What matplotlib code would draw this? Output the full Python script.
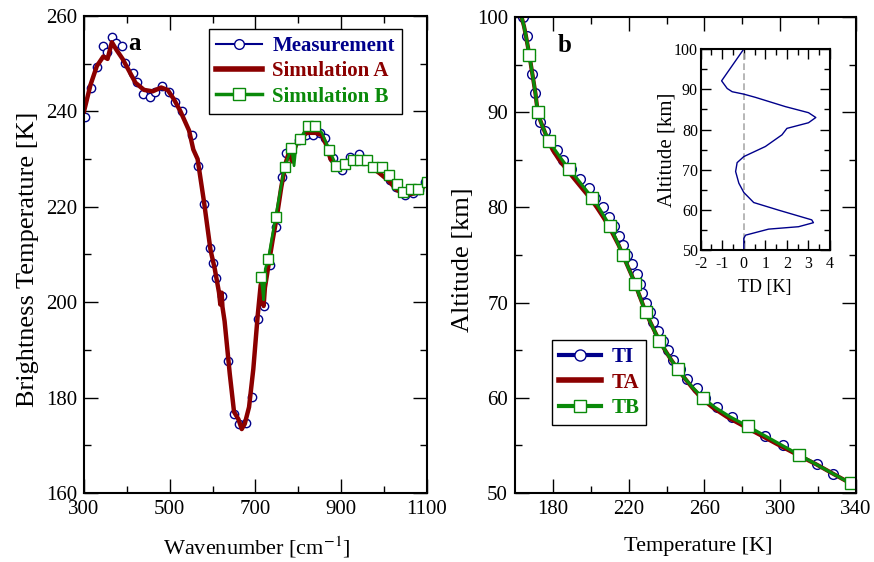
import numpy as np
import matplotlib
matplotlib.use("Agg")
import matplotlib.pyplot as plt
from matplotlib.lines import Line2D
from matplotlib.ticker import MultipleLocator, FixedLocator

plt.rcParams['font.family'] = ['Liberation Serif', 'DejaVu Serif']
plt.rcParams['mathtext.fontset'] = 'stix'
plt.rcParams['axes.unicode_minus'] = False

NAVY = '#00008b'
DRED = '#8b0000'
GREEN = '#0a8a0a'

# ---- panel a : brightness temperature spectrum ----
meas_wn = [302, 316, 330, 344, 353, 365, 375, 388, 396, 414, 423, 438, 454, 466, 481,
           499, 512, 528, 553, 565, 580, 594, 602, 608, 623, 637, 650, 662, 677, 692,
           707, 719, 735, 748, 761, 771, 784, 802, 819, 835, 850, 862, 880, 901, 920,
           942, 958, 975, 994, 1014, 1028, 1049, 1068, 1082, 1095]
meas_bt = [238.9, 244.8, 249.4, 253.7, 252.5, 255.5, 254.3, 253.7, 250.1, 248.0, 246.2,
           243.6, 243.0, 244.1, 245.3, 244.1, 242.0, 240.1, 235.0, 228.6, 220.6, 211.3,
           208.3, 205.0, 201.2, 187.7, 176.6, 174.5, 174.6, 180.1, 196.4, 199.1, 207.8,
           215.8, 226.3, 231.2, 232.3, 234.0, 235.0, 235.1, 235.4, 234.4, 230.2, 227.7,
           230.4, 231.1, 229.8, 228.4, 227.4, 225.6, 224.2, 222.5, 222.8, 223.5, 225.1]

sima_wn = [300, 315, 330, 345, 355, 365, 375, 390, 405, 420, 440, 460, 480, 495, 510,
           525, 545, 555, 565, 580, 595, 605, 615, 618, 621, 623, 628, 640, 650, 660,
           668, 675, 685, 695, 705, 712, 716, 719, 722, 730, 740, 750, 760, 770, 780,
           785, 790, 800, 820, 840, 855, 865, 875, 890, 905, 920, 940, 960, 975, 990,
           1010, 1030, 1050, 1070, 1085, 1100]
sima_bt = [240.0, 245.5, 249.5, 251.5, 251.0, 254.5, 253.0, 251.0, 248.5, 246.0, 244.5,
           244.2, 245.0, 244.5, 242.5, 240.0, 236.0, 232.0, 230.0, 221.0, 211.0, 207.0,
           202.0, 199.5, 202.0, 199.0, 196.0, 185.0, 177.0, 175.5, 173.4, 174.5, 178.0,
           186.0, 197.0, 203.5, 205.0, 199.2, 203.0, 207.5, 213.0, 218.0, 224.0, 229.0,
           232.0, 229.5, 232.0, 234.0, 235.5, 235.5, 235.0, 233.0, 230.0, 228.5, 229.0,
           229.8, 230.0, 229.5, 228.0, 227.0, 225.5, 223.5, 222.5, 222.8, 223.2, 225.5]

simb_wn = [712, 716, 719, 723, 730, 747, 768, 784, 790, 795, 804, 822, 839, 855, 872,
           889, 909, 927, 944, 961, 975, 994, 1012, 1029, 1045, 1063, 1080, 1099]
simb_bt = [205.3, 203.0, 200.5, 207.0, 209.1, 217.9, 228.4, 232.3, 228.6, 233.0, 234.2,
           237.0, 237.0, 235.5, 231.9, 228.6, 229.0, 229.7, 229.7, 229.7, 228.4, 228.4,
           226.7, 224.8, 223.0, 223.7, 223.7, 225.1]
simb_marks = [0, 4, 5, 6, 7, 10, 11, 12, 14, 15, 16, 17, 18, 19, 20, 21, 22, 23, 24, 25, 26, 27]

wn_ticks = [300, 500, 700, 900, 1100]
wn_minor = [400, 600, 800, 1000]

# ---- panel b : temperature profiles ----
ti_alt = [100, 98, 96, 94, 92, 90, 89, 88, 87, 86, 85, 84, 83, 82, 81, 80, 79, 78, 77,
          76, 75, 74, 73, 72, 71, 70, 69, 68, 67, 66, 65, 64, 63, 62, 61, 60, 59, 58,
          57, 56, 55, 54, 53, 52]
ti_temp = [164.0, 166.2, 167.8, 169.0, 170.6, 172.2, 173.4, 175.8, 178.6, 182.0, 185.5,
           189.8, 194.5, 199.0, 202.5, 206.5, 209.8, 212.5, 214.8, 217.0, 219.0, 221.6,
           224.3, 226.0, 227.3, 229.0, 231.3, 233.0, 235.7, 238.3, 241.0, 243.6, 247.1,
           250.7, 256.0, 260.5, 266.9, 274.5, 283.0, 292.0, 301.7, 310.5, 319.3, 328.1]

prof_alt = list(range(100, 50, -1))
tb_temp = [163.5, 164.8, 165.8, 166.7, 167.6, 168.4, 169.2, 170.0, 170.8, 171.4, 172.0,
           173.6, 175.6, 178.1, 181.2, 184.8, 188.7, 192.8, 196.8, 200.8, 204.2, 207.3,
           210.2, 212.6, 214.8, 216.9, 219.1, 221.3, 223.4, 225.2, 227.1, 229.0, 231.3,
           233.7, 236.2, 239.2, 242.4, 245.9, 249.8, 254.2, 259.1, 265.5, 273.5, 282.9,
           292.0, 301.0, 310.1, 319.1, 328.1, 337.2]
ta_temp = [163.5, 164.8, 165.8, 166.7, 167.6, 168.4, 169.2, 170.0, 170.8, 171.4, 172.0,
           173.6, 175.6, 177.5, 180.0, 183.3, 187.2, 191.3, 195.4, 199.6, 203.2, 206.5,
           209.6, 212.2, 214.8, 216.9, 219.1, 221.3, 223.4, 225.2, 227.1, 229.0, 231.3,
           233.7, 236.2, 239.2, 242.4, 245.9, 249.8, 253.8, 258.2, 264.2, 271.8, 281.0,
           290.3, 299.6, 309.2, 319.1, 328.1, 337.2]
tb_mark_alt = [96, 90, 87, 84, 81, 78, 75, 72, 69, 66, 63, 60, 57, 54, 51]

t_ticks = [180, 220, 260, 300, 340]
t_minor = [200, 240, 280, 320]

# inset: TD difference
td_alt = [100, 92.1, 90.2, 89.4, 88.8, 88.0, 85.7, 84.2, 83.0, 81.7, 80.3, 78.7, 75.8,
          73.3, 71.8, 69.6, 66.7, 64.4, 61.9, 60.0, 57.6, 56.9, 55.9, 55.3, 53.8, 53.0, 50]
td_val = [0.0, -1.03, -0.77, -0.54, 0.0, 0.54, 1.93, 3.0, 3.34, 3.0, 2.0, 1.77, 1.0,
          0.0, -0.31, -0.38, -0.23, 0.0, 0.46, 1.62, 3.15, 3.23, 2.54, 1.15, 0.08, 0.0, 0.0]


def style_axes(ax, size=15, major=10, minor=5):
    for s in ax.spines.values():
        s.set_linewidth(1.5)
    ax.tick_params(which='both', direction='in', top=True, right=True, width=1.0,
                   labelsize=size, pad=5)
    ax.tick_params(which='major', length=major)
    ax.tick_params(which='minor', length=minor)


fig = plt.figure(figsize=(8.74, 5.62), dpi=100)
ax1 = fig.add_axes([0.0961, 0.1228, 0.3924, 0.8488])
ax2 = fig.add_axes([0.5892, 0.1228, 0.3902, 0.847])

# panel a
ax1.plot(meas_wn, meas_bt, ls='none', marker='o', ms=6, mfc='white', mec=NAVY, mew=1.0)
ax1.plot(sima_wn, sima_bt, color=DRED, lw=3.2, solid_joinstyle='round')
ax1.plot(simb_wn, simb_bt, color=GREEN, lw=2.0, marker='s', ms=7.5, mfc='white',
         mec=GREEN, mew=1.0, markevery=simb_marks)
ax1.set_xlim(300, 1100)
ax1.set_ylim(160, 260)
ax1.xaxis.set_major_locator(FixedLocator(wn_ticks))
ax1.xaxis.set_minor_locator(FixedLocator(wn_minor))
ax1.yaxis.set_major_locator(MultipleLocator(20))
ax1.yaxis.set_minor_locator(MultipleLocator(10))
style_axes(ax1)
ax1.set_xlabel('Wavenumber [cm$^{-1}$]', fontsize=16)
ax1.set_ylabel('Brightness Temperature [K]', fontsize=19)
ax1.xaxis.set_label_coords(0.504, -0.088)
ax1.yaxis.set_label_coords(-0.13, 0.49)
ax1.text(0.146, 0.943, 'a', transform=ax1.transAxes, fontsize=18, fontweight='bold',
         ha='center', va='center')

h1 = [Line2D([], [], color=NAVY, lw=1.5, marker='o', ms=7, mfc='white', mec=NAVY),
      Line2D([], [], color=DRED, lw=4),
      Line2D([], [], color=GREEN, lw=2.5, marker='s', ms=8, mfc='white', mec=GREEN)]
leg1 = ax1.legend(h1, ['Measurement', 'Simulation A', 'Simulation B'], loc='upper left',
                  bbox_to_anchor=(0.364, 0.973), borderaxespad=0, fancybox=False,
                  edgecolor='black', framealpha=1, handlelength=2.2, handletextpad=0.5,
                  labelspacing=0.25, borderpad=0.35,
                  prop={'weight': 'bold', 'size': 15})
leg1.get_frame().set_linewidth(1.0)
for t, c in zip(leg1.get_texts(), [NAVY, DRED, GREEN]):
    t.set_color(c)

# panel b
ax2.plot(ti_temp, ti_alt, ls='none', marker='o', ms=7, mfc='white', mec=NAVY, mew=1.0)
ax2.plot(ta_temp, prof_alt, color=DRED, lw=3.0)
ax2.plot(tb_temp, prof_alt, color=GREEN, lw=2.3)
tb_idx = [prof_alt.index(a) for a in tb_mark_alt]
ax2.plot([tb_temp[i] for i in tb_idx], tb_mark_alt, ls='none', marker='s', ms=9,
         mfc='white', mec=GREEN, mew=1.0)
ax2.set_xlim(160, 340)
ax2.set_ylim(50, 100)
ax2.xaxis.set_major_locator(FixedLocator(t_ticks))
ax2.xaxis.set_minor_locator(FixedLocator(t_minor))
ax2.yaxis.set_major_locator(MultipleLocator(10))
ax2.yaxis.set_minor_locator(MultipleLocator(5))
style_axes(ax2)
ax2.set_xlabel('Temperature [K]', fontsize=16)
ax2.set_ylabel('Altitude [km]', fontsize=19)
ax2.xaxis.set_label_coords(0.537, -0.092)
ax2.yaxis.set_label_coords(-0.12, 0.49)
ax2.text(0.147, 0.941, 'b', transform=ax2.transAxes, fontsize=18, fontweight='bold',
         ha='center', va='center')

h2 = [Line2D([], [], color=NAVY, lw=3, marker='o', ms=8, mfc='white', mec=NAVY),
      Line2D([], [], color=DRED, lw=4),
      Line2D([], [], color=GREEN, lw=3, marker='s', ms=8, mfc='white', mec=GREEN)]
leg2 = ax2.legend(h2, ['TI', 'TA', 'TB'], loc='upper left', bbox_to_anchor=(0.108, 0.321),
                  borderaxespad=0, fancybox=False, edgecolor='black', framealpha=1,
                  handlelength=2.0, handletextpad=0.5, labelspacing=0.25, borderpad=0.35,
                  prop={'weight': 'bold', 'size': 15})
leg2.get_frame().set_linewidth(1.0)
for t, c in zip(leg2.get_texts(), [NAVY, DRED, GREEN]):
    t.set_color(c)

# inset
ax3 = fig.add_axes([0.8017, 0.5543, 0.148, 0.3585])
ax3.axvline(0, color='#aaaaaa', lw=1.2, ls='--', dashes=(4, 2))
ax3.plot(td_val, td_alt, color=NAVY, lw=1.0)
ax3.set_xlim(-2, 4)
ax3.set_ylim(50, 100)
ax3.xaxis.set_major_locator(MultipleLocator(1))
ax3.xaxis.set_minor_locator(MultipleLocator(0.5))
ax3.yaxis.set_major_locator(MultipleLocator(10))
ax3.yaxis.set_minor_locator(MultipleLocator(5))
style_axes(ax3, size=11.5, major=7, minor=4)
ax3.tick_params(axis='x', pad=4)
ax3.tick_params(axis='y', pad=2)
ax3.set_xlabel('TD [K]', fontsize=13)
ax3.set_ylabel('Altitude [km]', fontsize=15)
ax3.xaxis.set_label_coords(0.497, -0.14)
ax3.yaxis.set_label_coords(-0.19, 0.5)

fig.savefig('out.png', dpi=100)
